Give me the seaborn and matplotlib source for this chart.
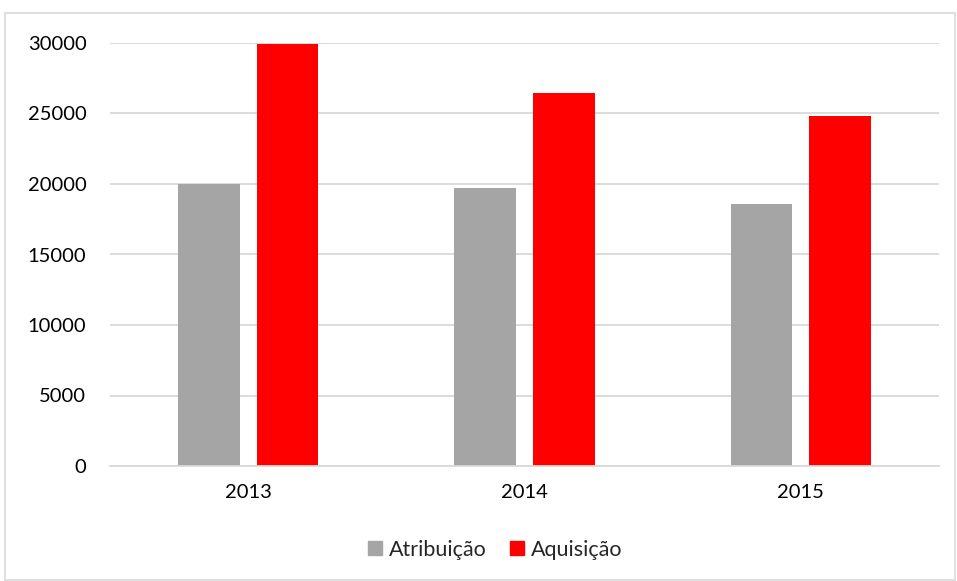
import matplotlib
matplotlib.use("Agg")
import matplotlib.pyplot as plt
import seaborn as sns
import pandas as pd
from matplotlib.patches import Rectangle
from matplotlib.lines import Line2D

years = ["2013", "2014", "2015"]
atribuicao = [20000, 19700, 18580]
aquisicao = [29900, 26420, 24840]
series_names = ["Atribuição", "Aquisição"]
colors = ["#a5a5a5", "#ff0000"]
yticks = [0, 5000, 10000, 15000, 20000, 25000, 30000]

df = pd.DataFrame({
    "Ano": years * 2,
    "Valor": atribuicao + aquisicao,
    "Série": [series_names[0]] * 3 + [series_names[1]] * 3,
})

sns.set_theme(style="white")
plt.rcParams["font.family"] = ["Lato", "DejaVu Sans"]

fig = plt.figure(figsize=(9.57, 5.81), dpi=100)
ax = fig.add_axes([110 / 957, 1 - 466 / 581, (939 - 110) / 957, (466 - 43) / 581])

sns.barplot(data=df, x="Ano", y="Valor", hue="Série", palette=colors,
            width=0.57, gap=0.22, ax=ax, legend=False, saturation=1,
            linewidth=0)

ax.set_ylim(0, 30000)
ax.set_yticks(yticks)
ax.set_yticklabels([str(v) for v in yticks])
ax.set_xlim(-0.5, 2.5)
ax.set_xlabel("")
ax.set_ylabel("")
ax.yaxis.grid(True, color="#d9d9d9", linewidth=1.3)
ax.set_axisbelow(True)
for s in ["top", "right", "left"]:
    ax.spines[s].set_visible(False)
ax.spines["bottom"].set_color("#d9d9d9")
ax.spines["bottom"].set_linewidth(1.3)
ax.tick_params(axis="both", length=0, labelsize=14.5, colors="black")
ax.tick_params(axis="y", pad=17)
ax.tick_params(axis="x", pad=13)

handles = [Line2D([], [], marker="s", linestyle="none", markersize=10.5,
                  markerfacecolor=c, markeredgecolor=c) for c in colors]
fig.legend(handles, series_names, loc="center", ncol=2,
           bbox_to_anchor=(493 / 957, 1 - 550 / 581), frameon=False,
           fontsize=15.5, handletextpad=0.15, columnspacing=0.9,
           handlelength=1.0)

fig.patches.append(Rectangle((5 / 957, 1 / 581), 950 / 957, (581 - 14) / 581,
                             transform=fig.transFigure, fill=False,
                             edgecolor="#d9d9d9", linewidth=1.2))

fig.savefig("out.png", dpi=100)
